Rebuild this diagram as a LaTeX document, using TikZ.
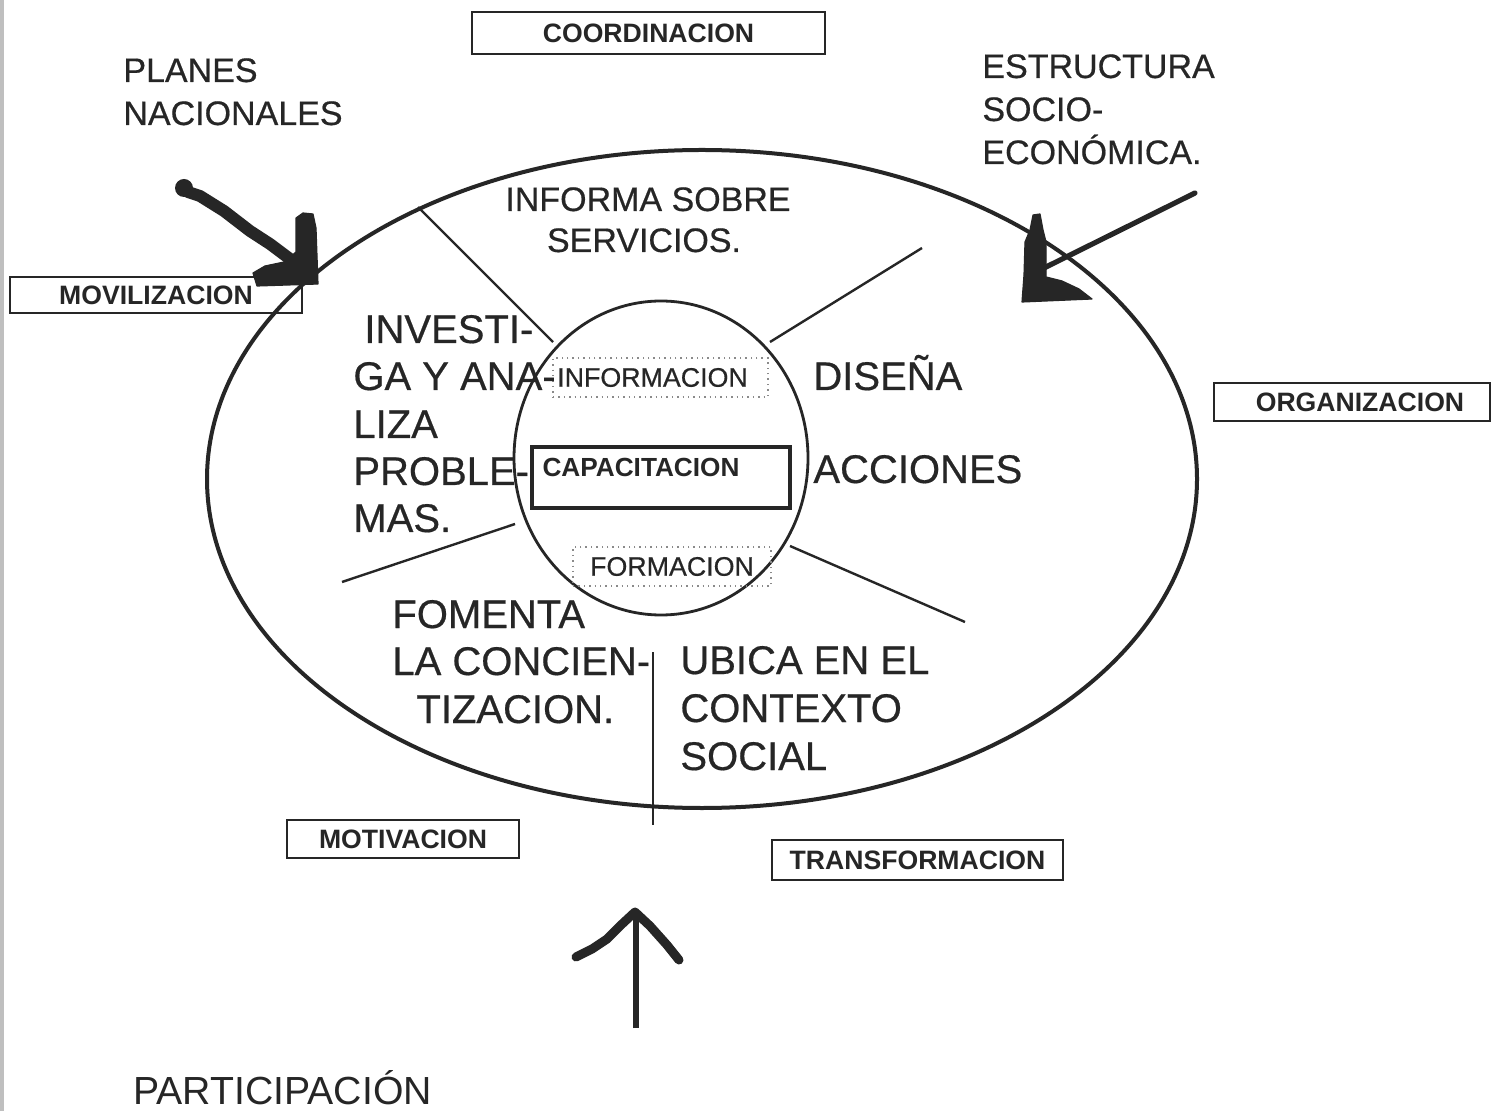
\documentclass[tikz,border=0pt]{standalone}
\usepackage{fontspec}
\setmainfont{Liberation Sans}
\newfontfamily\heavyfont[FakeBold=0.5]{Liberation Sans}
\definecolor{ink}{HTML}{262626}
\definecolor{dotgray}{HTML}{8A8A8A}
\begin{document}
\begin{tikzpicture}[x=0.5pt,y=-0.5pt,
  boxlabel/.style={draw=ink, line width=1pt, inner sep=0pt, text=ink,
    font=\fontsize{13.3}{15}\selectfont\bfseries},
  dotbox/.style={draw=dotgray, line width=0.7pt, dotted, inner sep=0pt, text=ink,
    font=\heavyfont\fontsize{13.4}{15}\selectfont},
  bigtext/.style={font=\heavyfont\fontsize{20}{24}\selectfont, text=ink, anchor=base west, inner sep=0pt},
  midtext/.style={font=\heavyfont\fontsize{17}{20}\selectfont, text=ink, inner sep=0pt},
  spoke/.style={draw=ink, line width=1.2pt},
  blob/.style={fill=ink, draw=ink, line width=0.6pt, line join=round}]
\useasboundingbox (0,0) rectangle (1492,1111);
\fill[white] (0,0) rectangle (1492,1111);
\fill[black!25] (0,0) rectangle (4,1111);

% outer ellipse and inner circle
\draw[ink, line width=2pt] (702,479) ellipse [x radius=247.5pt, y radius=164.5pt];
\draw[ink, line width=1.4pt] (661,458) ellipse [x radius=73.5pt, y radius=78.5pt];

% spokes
\coordinate (s1a) at (418,207); \coordinate (s1b) at (553,342);
\coordinate (s2a) at (922,248); \coordinate (s2b) at (770,342);
\coordinate (s3a) at (342,582); \coordinate (s3b) at (515,524);
\coordinate (s4a) at (790,546); \coordinate (s4b) at (965,622);
\coordinate (s5a) at (653,652); \coordinate (s5b) at (653,825);
\draw[spoke] (s1a) -- (s1b);
\draw[spoke] (s2a) -- (s2b);
\draw[spoke] (s3a) -- (s3b);
\draw[spoke] (s4a) -- (s4b);
\draw[spoke] (s5a) -- (s5b);

% outer boxes
\node[boxlabel, minimum width=176.5pt, minimum height=21pt] (coord) at (648.5,33) {COORDINACION};
\node[boxlabel, minimum width=146pt, minimum height=18pt] (movil) at (156,295) {MOVILIZACION};
\node[boxlabel, minimum width=138pt, minimum height=19pt] (organ) at (1352,402) {\hspace*{8pt}ORGANIZACION};
\node[boxlabel, minimum width=116pt, minimum height=19pt] (motiv) at (403,839) {MOTIVACION};
\node[boxlabel, minimum width=145.5pt, minimum height=20pt] (transf) at (917.5,860) {TRANSFORMACION};

% inner boxes
\node[dotbox, minimum width=107.5pt, minimum height=19.5pt] (info) at (660.5,377.5) {\hspace*{-8pt}INFORMACION};
\draw[ink, line width=2pt] (532,447) rectangle (790,508);
\node[text=ink, inner sep=0pt, font=\fontsize{13.1}{15}\selectfont\bfseries] (capac) at (641,467) {CAPACITACION};
\node[dotbox, minimum width=99pt, minimum height=19.5pt] (forma) at (672,566.5) {FORMACION};

% big texts
\node[midtext, anchor=base west] (planes) at (123,82) {PLANES};
\node[midtext, anchor=base west] (nacion) at (123,125) {NACIONALES};
\node[midtext, anchor=base west] (estr) at (982,78) {ESTRUCTURA};
\node[midtext, anchor=base west] (socio) at (982,121) {SOCIO-};
\node[midtext, anchor=base west] (econ) at (982,164) {ECONÓMICA.};
\node[midtext, anchor=base] (informa) at (648,211) {INFORMA SOBRE};
\node[midtext, anchor=base] (servic) at (644,252) {SERVICIOS.};

\node[bigtext] (inv1) at (364,343) {INVESTI-};
\node[bigtext] (inv2) at (353,390) {GA Y ANA-};
\node[bigtext] (inv3) at (353,438) {LIZA};
\node[bigtext] (inv4) at (353,485) {PROBLE-};
\node[bigtext] (inv5) at (353,532) {MAS.};

\node[bigtext] (dis1) at (813,390) {DISEÑA};
\node[bigtext] (dis2) at (813,483) {ACCIONES};

\node[bigtext] (fom1) at (392,628) {FOMENTA};
\node[bigtext] (fom2) at (392,675) {LA CONCIEN-};
\node[bigtext] (fom3) at (416,723) {TIZACION.};

\node[bigtext] (ubi1) at (680,674) {UBICA EN EL};
\node[bigtext] (ubi2) at (680,722) {CONTEXTO};
\node[bigtext] (ubi3) at (680,770) {SOCIAL};

\node[bigtext, font=\fontsize{19.6}{24}\selectfont] (partic) at (133,1104) {PARTICIPACIÓN};

% top-left hand-drawn arrow
\draw[ink, line width=6pt, line cap=round, line join=round]
  (188,192) -- (200,196) -- (224,211) -- (250,231) -- (270,244) -- (298,265);
\fill[ink] (184,188) circle [radius=4.5pt];
\filldraw[blob] (296,218) -- (303,213) -- (313,214) -- (316,228) -- (318,284)
  -- (257,286) -- (253,273) -- (265,266) -- (284,262) -- (296,252) -- cycle;

% top-right hand-drawn arrow
\draw[ink, line width=2.6pt, line cap=round] (1195,193) -- (1044,268);
\filldraw[blob] (1030,230) -- (1033,215) -- (1040,214) -- (1043,230) -- (1046,242)
  -- (1046,277) -- (1062,281) -- (1079,289) -- (1092,299) -- (1022,302)
  -- (1024,275) -- (1025,242) -- cycle;

% bottom arrow
\coordinate (ptip) at (635,912);
\coordinate (pfoot) at (636,1028);
\draw[ink, line width=2.6pt] (pfoot) -- (636,918);
\draw[ink, line width=4.5pt, line join=round, line cap=round]
  (576,957) -- (592,949) -- (607,939) -- (621,925) -- (ptip)
  -- (650,926) -- (667,945) -- (679,960);
\end{tikzpicture}
\end{document}
